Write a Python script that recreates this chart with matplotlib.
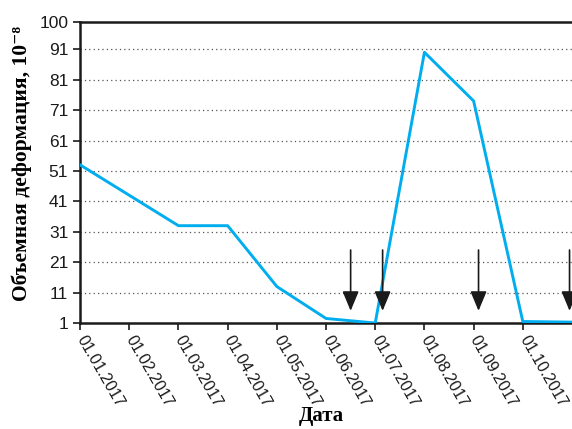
import matplotlib
matplotlib.use("Agg")
import matplotlib.pyplot as plt

dates = ["01.01.2017", "01.02.2017", "01.03.2017", "01.04.2017", "01.05.2017",
         "01.06.2017", "01.07.2017", "01.08.2017", "01.09.2017", "01.10.2017"]
x_pos = [0, 1, 2, 3, 4, 5, 6, 7, 8, 9, 10]
strain = [53, 43, 33, 33, 13, 2.5, 1, 90, 74, 1.5, 1.3]
arrow_x = [5.5, 6.15, 8.1, 9.95]
y_ticks = [1, 11, 21, 31, 41, 51, 61, 71, 81, 91, 100]

fig = plt.figure(figsize=(5.72, 4.29), dpi=100)
ax = fig.add_axes([0.14, 0.247, 0.86, 0.702])

ax.plot(x_pos, strain, color="#00AEEF", lw=2.1, zorder=3)

for xa in arrow_x:
    ax.annotate("", xy=(xa, 5), xytext=(xa, 25),
                arrowprops=dict(arrowstyle="-|>,head_length=1.2,head_width=0.5",
                                color="#1a1a1a", lw=1.2, shrinkA=0, shrinkB=0),
                zorder=4)

for yv in y_ticks[1:-1]:
    ax.axhline(yv, color="#555555", lw=0.9, ls=(0, (1, 2.5)), zorder=1)

ax.set_xlim(0, 10)
ax.set_ylim(1, 100)
ax.set_yticks(y_ticks)
ax.set_yticklabels([str(v) for v in y_ticks], fontfamily="Liberation Sans", fontsize=12.5)
ax.set_xticks(range(len(dates)))
ax.set_xticklabels(dates, rotation=-60, ha="left", va="center", rotation_mode="anchor",
                   fontfamily="Liberation Sans", fontsize=11.5)
ax.tick_params(axis="both", direction="out", length=5, width=1.2, colors="#1a1a1a")
ax.tick_params(axis="x", pad=5)

for s in ["left", "bottom", "top"]:
    ax.spines[s].set_linewidth(1.8)
    ax.spines[s].set_color("#1a1a1a")
ax.spines["right"].set_visible(False)

ax.set_ylabel("Объемная деформация, 10⁻⁸", family=["Liberation Serif", "DejaVu Serif"],
              fontweight="bold", fontsize=15.5)
ax.yaxis.set_label_coords(-0.098, 0.53)
ax.set_xlabel("Дата", family=["Liberation Serif", "DejaVu Serif"], fontweight="bold", fontsize=15)
ax.xaxis.set_label_coords(0.49, -0.275)

fig.savefig("out.png", dpi=100)
